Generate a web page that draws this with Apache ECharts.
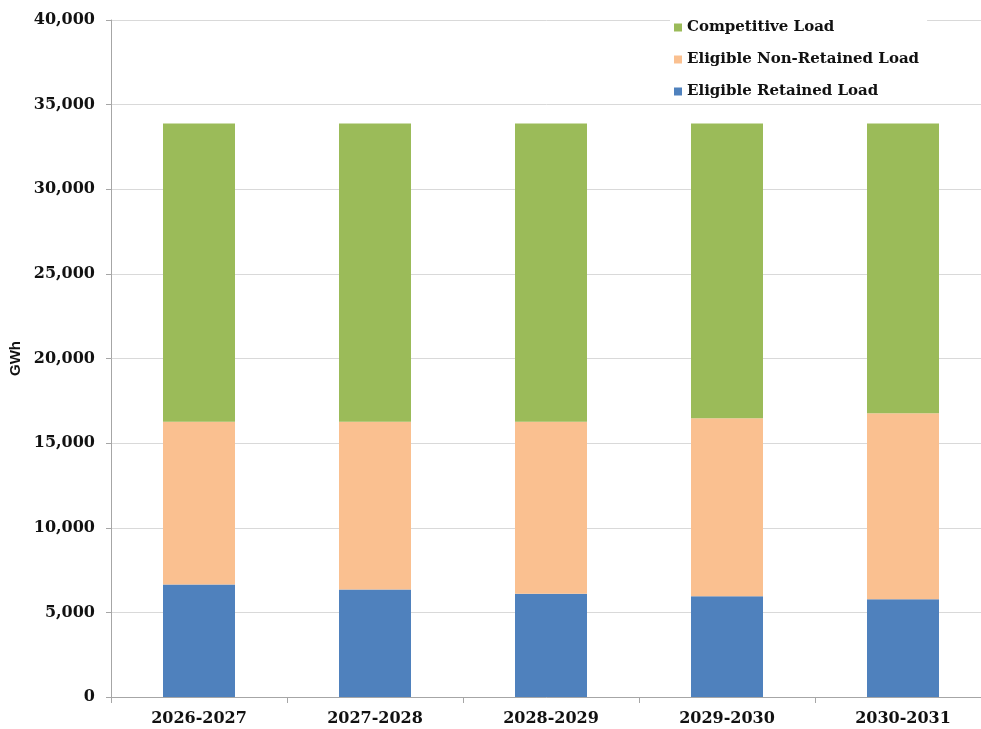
<!DOCTYPE html>
<html>
<head>
<meta charset="utf-8">
<script src="https://cdn.jsdelivr.net/npm/echarts@6/dist/echarts.min.js"></script>
<style>html,body{margin:0;padding:0;background:#fff;}#c{width:981px;height:729px;}</style>
</head>
<body>
<div id="c"></div>
<script>
var categories = ["2026-2027", "2027-2028", "2028-2029", "2029-2030", "2030-2031"];
var retainedLoad = [6650, 6350, 6100, 5950, 5780];
var nonRetainedLoad = [9620, 9920, 10170, 10520, 10980];
var competitiveLoad = [17610, 17610, 17610, 17410, 17120];
var seriesNames = ["Eligible Retained Load", "Eligible Non-Retained Load", "Competitive Load"];
var yAxisName = "GWh";

var chart = echarts.init(document.getElementById('c'));
var serif = "DejaVu Serif";
chart.setOption({
  animation: false,
  backgroundColor: '#fff',
  grid: { left: 111, top: 20, width: 880, height: 677, containLabel: false, outerBoundsMode: 'none' },
  legend: {
    data: [seriesNames[2], seriesNames[1], seriesNames[0]],
    orient: 'vertical',
    left: 670, top: 18,
    itemWidth: 8, itemHeight: 8, itemGap: 17,
    icon: 'rect',
    backgroundColor: '#fff',
    padding: [2, 8, 2, 4],
    textStyle: { fontFamily: serif, fontWeight: 'bold', fontSize: 15, color: '#111' }
  },
  xAxis: {
    type: 'category',
    data: categories,
    axisLine: { lineStyle: { color: '#a6a6a6', width: 1 } },
    axisTick: { show: true, length: 6, lineStyle: { color: '#a6a6a6' } },
    axisLabel: { fontFamily: serif, fontWeight: 'bold', fontSize: 16, color: '#111', margin: 14 }
  },
  yAxis: {
    type: 'value',
    min: 0, max: 40000, interval: 5000,
    name: yAxisName,
    nameLocation: 'middle',
    nameGap: 86,
    nameRotate: 90,
    nameTextStyle: { fontFamily: 'Liberation Sans', fontWeight: 'bold', fontSize: 15, color: '#111' },
    axisLine: { show: true, lineStyle: { color: '#a6a6a6', width: 1 } },
    axisTick: { show: true, length: 5, lineStyle: { color: '#a6a6a6' } },
    splitLine: { lineStyle: { color: '#d9d9d9', width: 1 } },
    axisLabel: {
      fontFamily: serif, fontWeight: 'bold', fontSize: 16, color: '#111', margin: 16,
      formatter: function (v) { return v.toLocaleString('en-US'); }
    }
  },
  series: [
    { name: seriesNames[0], type: 'bar', stack: 'load', data: retainedLoad, barWidth: 72, itemStyle: { color: '#4F81BD' } },
    { name: seriesNames[1], type: 'bar', stack: 'load', data: nonRetainedLoad, barWidth: 72, itemStyle: { color: '#FAC090' } },
    { name: seriesNames[2], type: 'bar', stack: 'load', data: competitiveLoad, barWidth: 72, itemStyle: { color: '#9BBB59' } }
  ]
});
</script>
</body>
</html>
